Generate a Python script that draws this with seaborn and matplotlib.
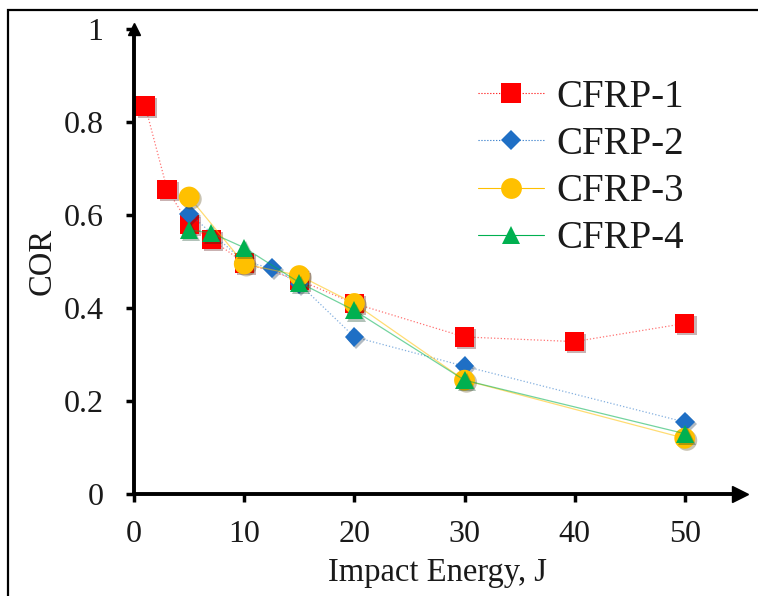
import matplotlib
matplotlib.use("Agg")
import matplotlib.pyplot as plt
import matplotlib.patheffects as pe
from matplotlib.lines import Line2D
from matplotlib.patches import Rectangle
import pandas as pd
import seaborn as sns

sns.set_theme(style="white")
plt.rcParams["font.family"] = ["Liberation Serif", "DejaVu Serif"]

# datos
e1 = [1, 3, 5, 7, 10, 15, 20, 30, 40, 50]
cor1 = [0.835, 0.655, 0.58, 0.548, 0.497, 0.46, 0.41, 0.338, 0.328, 0.367]

e2 = [5, 10, 12.5, 15, 20, 30, 50]
cor2 = [0.603, 0.50, 0.486, 0.452, 0.338, 0.275, 0.155]

e3 = [5, 10, 15, 20, 30, 50]
cor3 = [0.639, 0.495, 0.47, 0.41, 0.245, 0.12]

e4 = [5, 7, 10, 15, 20, 30, 50]
cor4 = [0.568, 0.562, 0.53, 0.455, 0.395, 0.245, 0.13]

series = [
    ("CFRP-1", e1, cor1, "#FF0000", "s", 14, ":"),
    ("CFRP-2", e2, cor2, "#1F6FC5", "D", 10, ":"),
    ("CFRP-3", e3, cor3, "#FFC000", "o", 15, "-"),
    ("CFRP-4", e4, cor4, "#00B050", "^", 13, "-"),
]

fig = plt.figure(figsize=(7.58, 5.96), dpi=100)
ax = fig.add_axes([0.177, 0.171, 0.799, 0.78])

shadow = [pe.SimplePatchShadow(offset=(1.5, -1.5), alpha=0.3), pe.Normal()]

handles = []
for nombre, x, y, color, mk, ms, ls in series:
    df = pd.DataFrame({"x": x, "y": y})
    # linea fina y clara
    sns.lineplot(data=df, x="x", y="y", ax=ax, color=color, linestyle=ls,
                 linewidth=0.9, alpha=0.55, sort=False)
    # marcadores con sombra
    sns.lineplot(data=df, x="x", y="y", ax=ax, color=color, marker=mk,
                 markersize=ms, markeredgewidth=0, linestyle="none", sort=False)
    ax.get_lines()[-1].set_path_effects(shadow)
    handles.append(Line2D([], [], color=color, linestyle=ls, linewidth=0.8,
                          alpha=1.0, marker=mk, markersize=ms, markeredgewidth=0,
                          label=nombre))

ax.set_xlim(0, 55)
ax.set_ylim(0, 1)
ax.set_xticks([0, 10, 20, 30, 40, 50])
ax.set_yticks([0, 0.2, 0.4, 0.6, 0.8, 1.0])
ax.set_yticklabels(["0", "0.2", "0.4", "0.6", "0.8", "1"])
ax.tick_params(axis="both", labelsize=23, direction="out", length=6, width=2.5,
               color="black", labelcolor="#1a1a1a", bottom=True, left=True)
ax.tick_params(axis="x", pad=13)
ax.tick_params(axis="y", pad=16)
ax.set_xlabel("Impact Energy, J", fontsize=23.5, color="#1a1a1a", labelpad=6)
ax.set_ylabel("COR", fontsize=23.5, color="#1a1a1a", labelpad=4)

for s in ["top", "right"]:
    ax.spines[s].set_visible(False)
for s in ["left", "bottom"]:
    ax.spines[s].set_color("black")
    ax.spines[s].set_linewidth(2.8)

# flechas de los ejes
ax.plot(1, 0, ">", color="black", markersize=11, transform=ax.transAxes, clip_on=False)
ax.plot(0, 1, "^", color="black", markersize=9, transform=ax.transAxes, clip_on=False)

leg = ax.legend(handles=handles, loc="upper left", bbox_to_anchor=(0.568, 0.893),
                frameon=False, fontsize=28, handlelength=1.7, labelspacing=0.26,
                handletextpad=0.3, borderpad=0, borderaxespad=0)
for t in leg.get_texts():
    t.set_color("#1a1a1a")

# marco de la figura
fig.patches.append(Rectangle((8 / 758, -0.05), 1.1, 1 - 10 / 596 + 0.05,
                             transform=fig.transFigure, fill=False,
                             edgecolor="black", linewidth=1.6))

fig.savefig("out.png", dpi=100)
